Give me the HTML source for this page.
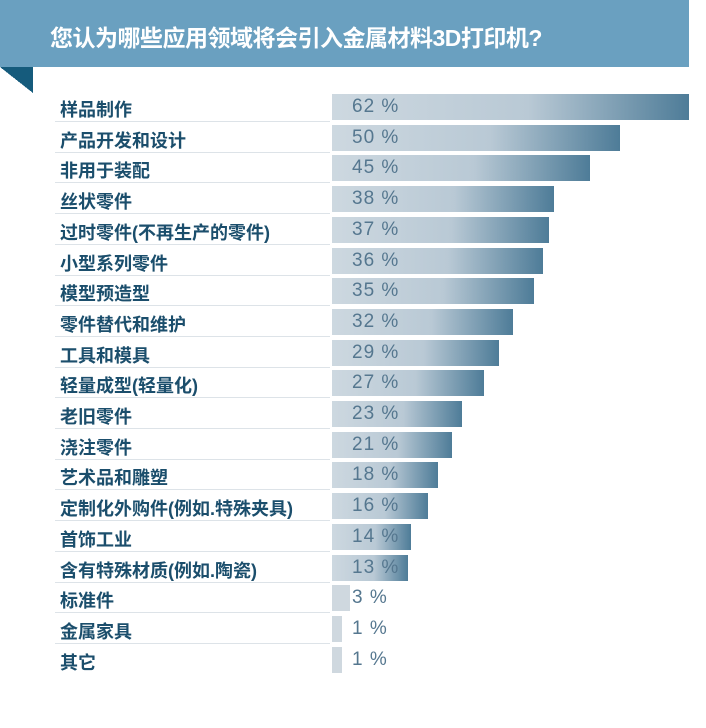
<!DOCTYPE html>
<html><head><meta charset="utf-8"><style>
body{margin:0;width:706px;height:728px;background:#fff;position:relative;overflow:hidden;font-family:"Liberation Sans","Noto Sans CJK SC",sans-serif}
.hd{position:absolute;left:0;top:0;width:689px;height:67px;background:#6aa0c0}
.hd span{position:absolute;left:50px;top:19px;color:#fff;font-weight:bold;font-size:23px;letter-spacing:-0.5px;font-family:"Liberation Sans","Noto Sans CJK SC",sans-serif}
.tri2{position:absolute;left:0;top:67px;width:33px;height:26px;background:linear-gradient(to top right,transparent 50%,#155b7c 50%)}
.row{position:absolute;left:0;width:706px;height:31px}
.lb{position:absolute;left:60px;top:3px;font-size:18px;font-weight:bold;color:#1b4e6c;white-space:nowrap}
.ln{position:absolute;left:55px;top:28px;width:275px;height:1px;background:#dde3e8}
.bar{position:absolute;left:332px;top:1px;height:26px}
.pc{position:absolute;left:352px;top:3px;font-size:19px;color:#55778f;letter-spacing:1px}
</style></head><body>
<div class="hd"><span>您认为哪些应用领域将会引入金属材料3D打印机?</span></div>
<div class="tri2"></div>
<div id="c"></div>
<script>
var d=[["样品制作",62,689],["产品开发和设计",50,620],["非用于装配",45,590],["丝状零件",38,554],["过时零件(不再生产的零件)",37,549],["小型系列零件",36,543],["模型预造型",35,534],["零件替代和维护",32,513],["工具和模具",29,499],["轻量成型(轻量化)",27,484],["老旧零件",23,462],["浇注零件",21,452],["艺术品和雕塑",18,438],["定制化外购件(例如.特殊夹具)",16,428],["首饰工业",14,411],["含有特殊材质(例如.陶瓷)",13,408],["标准件",3,350],["金属家具",1,342],["其它",1,342]];
var h="";
d.forEach(function(r,i){
var top=93+i*30.7,w=r[2]-332;
var bg=r[1]>5?"linear-gradient(to right,#cdd8e0 0%,#b9c9d5 55%,#4e7c98 100%)":"#cfd8df";
h+='<div class="row" style="top:'+top+'px"><div class="lb">'+r[0]+'</div>'+(i<18?'<div class="ln"></div>':'')+'<div class="bar" style="width:'+w+'px;background:'+bg+'"></div><div class="pc">'+r[1]+' %</div></div>';
});
document.getElementById("c").innerHTML=h;
</script>
</body></html>
